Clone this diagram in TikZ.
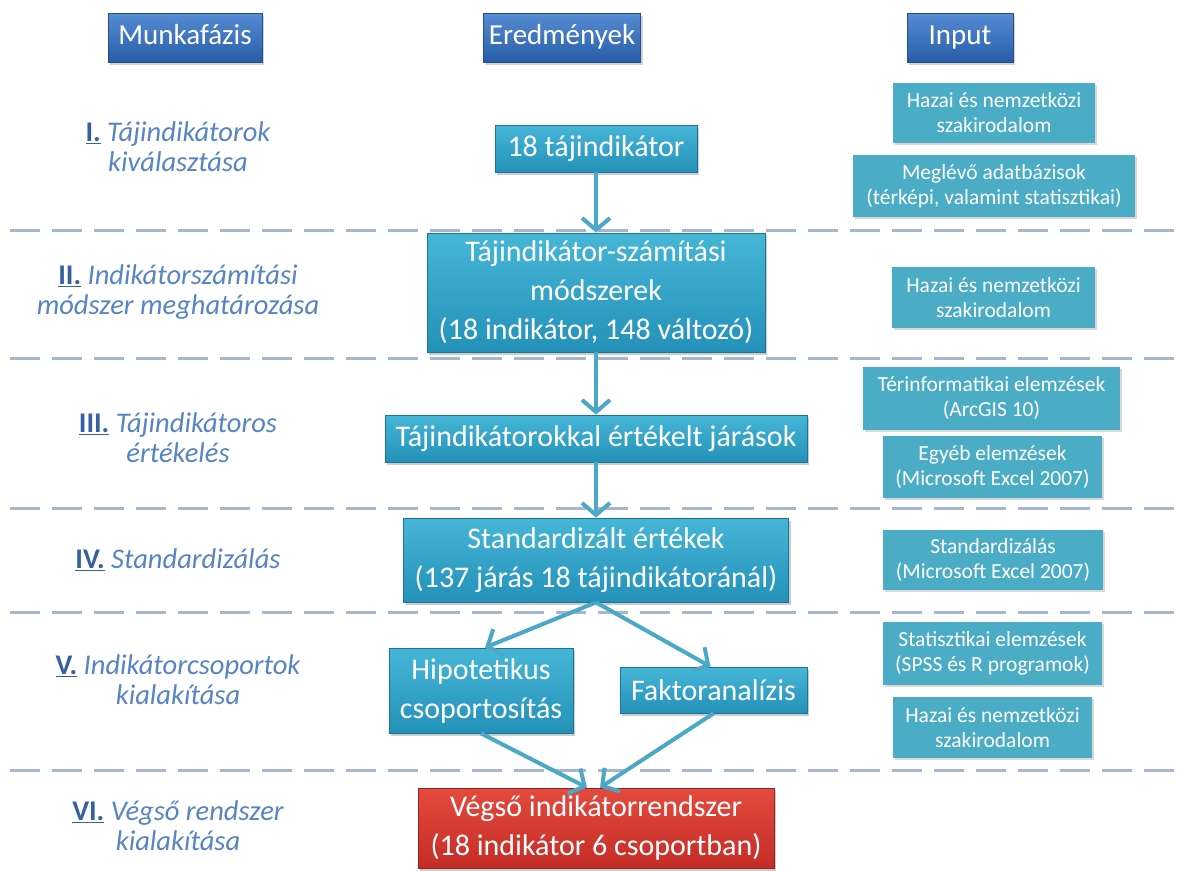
\documentclass[tikz,border=0pt]{standalone}
\usepackage{fontspec}
\setmainfont{Carlito}
\usetikzlibrary{arrows.meta,shadows}
\definecolor{hdrtop}{RGB}{86,140,212}
\definecolor{hdrbot}{RGB}{40,92,168}
\definecolor{hdredge}{RGB}{38,80,140}
\definecolor{midtop}{RGB}{70,182,215}
\definecolor{midbot}{RGB}{36,145,185}
\definecolor{midedge}{RGB}{30,115,150}
\definecolor{inpcol}{RGB}{75,172,198}
\definecolor{redtop}{RGB}{228,74,62}
\definecolor{redbot}{RGB}{196,44,38}
\definecolor{rededge}{RGB}{150,35,30}
\definecolor{arrcol}{RGB}{75,168,198}
\definecolor{sepcol}{RGB}{166,182,204}
\definecolor{labnum}{RGB}{55,96,160}
\definecolor{labtxt}{RGB}{86,132,196}
\newcommand\phasenum[1]{\textcolor{labnum}{\upshape\bfseries\underline{#1}}}
\begin{document}
\begin{tikzpicture}[x=1pt,y=-1pt,
  hdr/.style={draw=hdredge, line width=0.8pt, top color=hdrtop, bottom color=hdrbot,
    text=white, font=\fontsize{29}{31}\selectfont, inner sep=0pt,
    text height=20pt, text depth=6pt,
    drop shadow={opacity=0.35, shadow xshift=2pt, shadow yshift=-3pt}},
  mid/.style={draw=midedge, line width=0.8pt, top color=midtop, bottom color=midbot,
    text=white, font=\fontsize{30}{39}\selectfont, align=center, inner sep=0pt,
    drop shadow={opacity=0.4, shadow xshift=2pt, shadow yshift=-3pt}},
  fin/.style={mid, draw=rededge, top color=redtop, bottom color=redbot},
  inp/.style={fill=inpcol, text=white, font=\fontsize{21.5}{25}\selectfont, align=center,
    inner sep=0pt, drop shadow={opacity=0.3, shadow xshift=2pt, shadow yshift=-2pt}},
  lab/.style={align=center, text=labtxt, font=\fontsize{28.5}{30}\selectfont\itshape},
  sep/.style={draw=sepcol, line width=3pt, dash pattern=on 30pt off 12pt},
  conn/.style={draw=arrcol, line width=4pt, -{Straight Barb[length=12pt,width=28pt]}}
]
\useasboundingbox (0,0) rectangle (1180,870);
\fill[white] (0,0) rectangle (1180,870);

% separators
\foreach \yy in {230,358,508,612,770} \draw[sep] (10,\yy) -- (1180,\yy);

% headers
\node[hdr, minimum width=154, minimum height=49] (hm) at (185,37.5) {Munkafázis};
\node[hdr, minimum width=157, minimum height=49] (he) at (562,37.5) {Eredmények};
\node[hdr, minimum width=106, minimum height=49] (hi) at (960,37.5) {Input};

% phase labels
\node[lab] (l1) at (178,147) {\phasenum{I.} Tájindikátorok\\kiválasztása};
\node[lab] (l2) at (178,292) {\phasenum{II.} Indikátorszámítási\\módszer meghatározása};
\node[lab] (l3) at (178,438) {\phasenum{III.} Tájindikátoros\\értékelés};
\node[lab] (l4) at (178,560) {\phasenum{IV.} Standardizálás};
\node[lab] (l5) at (178,680) {\phasenum{V.} Indikátorcsoportok\\kialakítása};
\node[lab] (l6) at (178,826) {\phasenum{VI.} Végső rendszer\\kialakítása};

% results
\node[mid, minimum width=202, minimum height=47] (b1) at (596,148.5) {18 tájindikátor};
\node[mid, minimum width=338, minimum height=119] (b2) at (596,292.5) {Tájindikátor-számítási\\módszerek\\(18 indikátor, 148 változó)};
\node[mid, minimum width=422, minimum height=47] (b3) at (596,438.5) {Tájindikátorokkal értékelt járások};
\node[mid, minimum width=385, minimum height=84] (b4) at (596,560) {Standardizált értékek\\(137 járás 18 tájindikátoránál)};
\node[mid, minimum width=184, minimum height=85] (h) at (481,690.5) {Hipotetikus\\csoportosítás};
\node[mid, minimum width=187, minimum height=46] (f) at (713.5,690) {Faktoranalízis};
\node[fin, minimum width=356, minimum height=80] (r) at (596,828) {Végső indikátorrendszer\\(18 indikátor 6 csoportban)};

% inputs
\node[inp, minimum width=202, minimum height=60] (i1) at (994,113) {Hazai és nemzetközi\\szakirodalom};
\node[inp, minimum width=282, minimum height=62] (i2) at (994,186) {Meglévő adatbázisok\\(térképi, valamint statisztikai)};
\node[inp, minimum width=203, minimum height=61] (i3) at (993.5,297.5) {Hazai és nemzetközi\\szakirodalom};
\node[inp, minimum width=257, minimum height=63] (i4) at (991.5,398.5) {Térinformatikai elemzések\\(ArcGIS 10)};
\node[inp, minimum width=219, minimum height=62] (i5) at (992.5,467) {Egyéb elemzések\\(Microsoft Excel 2007)};
\node[inp, minimum width=220, minimum height=60] (i6) at (993,560) {Standardizálás\\(Microsoft Excel 2007)};
\node[inp, minimum width=219, minimum height=63] (i7) at (992.5,653.5) {Statisztikai elemzések\\(SPSS és R programok)};
\node[inp, minimum width=199, minimum height=61] (i8) at (992.5,727.5) {Hazai és nemzetközi\\szakirodalom};

% connectors
\draw[conn] (b1.south) -- (b2.north);
\draw[conn] (b2.south) -- (b3.north);
\draw[conn] (b3.south) -- (b4.north);
\draw[conn] (b4.south) -- ([xshift=4pt]h.north);
\draw[conn] (b4.south) -- ([xshift=-3pt]f.north);
\draw[conn] (h.south) -- ([xshift=-9pt]r.north);
\draw[conn] (f.south) -- ([xshift=4pt]r.north);
\end{tikzpicture}
\end{document}
